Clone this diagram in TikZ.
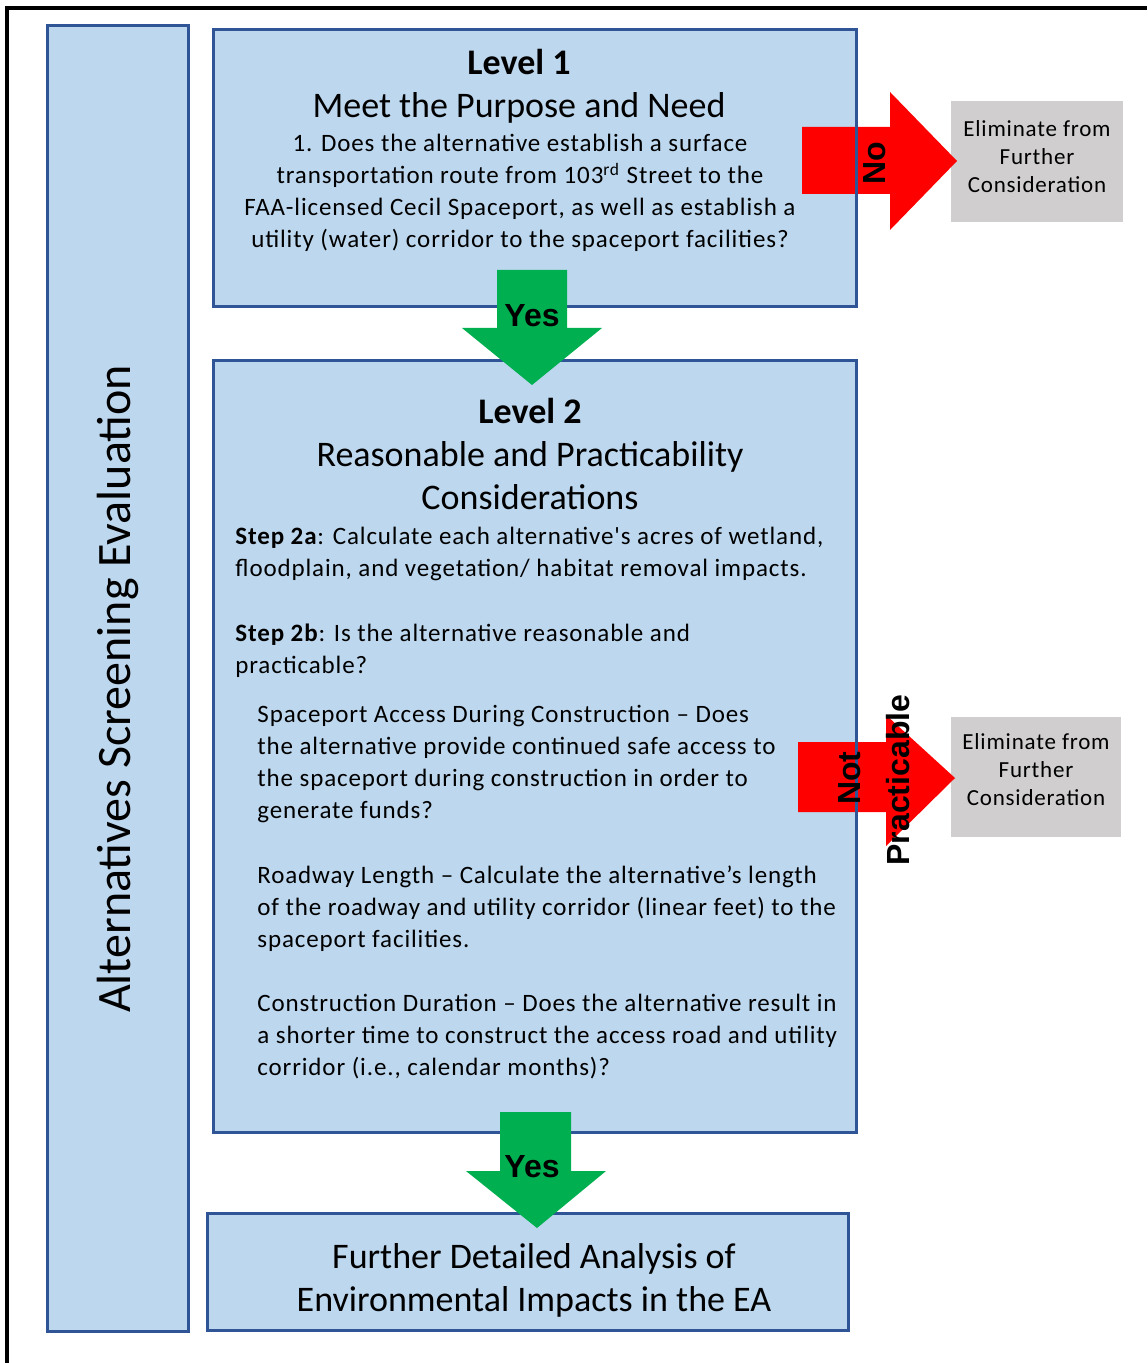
\documentclass[tikz,border=0pt]{standalone}
\usepackage{fontspec}
\setmainfont{Carlito}
\newfontfamily\spacedfont[LetterSpace=3.5]{Carlito}
\newfontfamily\arrowfont{Liberation Sans}
\definecolor{boxfill}{RGB}{189,215,238}
\definecolor{boxline}{RGB}{47,85,151}
\definecolor{yesgreen}{RGB}{0,176,80}
\definecolor{elimgray}{RGB}{208,206,206}
\begin{document}
\begin{tikzpicture}[x=0.5pt, y=-0.5pt,
        body/.style={inner sep=0pt, align=left, font=\spacedfont\fontsize{12.5}{16}\selectfont},
        title/.style={inner sep=0pt, align=center, font=\fontsize{18}{21.5}\selectfont},
        elim/.style={fill=elimgray, inner sep=0pt},
        elimtext/.style={inner sep=0pt, align=center, font=\spacedfont\fontsize{11.5}{14}\selectfont},
        arrowtext/.style={inner sep=0pt, font=\arrowfont\bfseries\fontsize{16}{16}\selectfont},
        border/.style={draw=boxline, line width=1.5pt}]
    \useasboundingbox (0,0) rectangle (1147,1363);
    \draw[line width=2pt] (7,1363) -- (7,8) -- (1147,8);

    \fill[boxfill] (47,26) rectangle (188,1331);
    \fill[boxfill] (213,30) rectangle (856,307);
    \fill[boxfill] (213,361) rectangle (856,1132);
    \fill[boxfill] (207,1213) rectangle (848,1330);

    \node[elim, minimum width=86pt, minimum height=60.5pt] (elimone) at (1037,161.5) {};
    \node[elim, minimum width=85pt, minimum height=60pt] (elimtwo) at (1036,777) {};
    \node[elimtext] (elimonetext) at (1037,157) {Eliminate from\\Further\\Consideration};
    \node[elimtext] (elimtwotext) at (1036,770) {Eliminate from\\Further\\Consideration};

    \fill[red] (802,127) -- (890,127) -- (890,92) -- (957,161) -- (890,230) -- (890,194) -- (802,194) -- cycle;
    \fill[red] (798,742) -- (886,742) -- (886,715) -- (955,778) -- (886,846) -- (886,812) -- (798,812) -- cycle;

    \draw[border] (47,26) rectangle (188,1331);
    \draw[border] (213,30) rectangle (856,307);
    \draw[border] (213,361) rectangle (856,1132);
    \draw[border] (207,1213) rectangle (848,1330);

    \fill[yesgreen] (497,270) -- (567,270) -- (567,328) -- (602,328) -- (532,385) -- (462,328) -- (497,328) -- cycle;
    \fill[yesgreen] (500,1112) -- (571,1112) -- (571,1171) -- (606,1171) -- (537,1228) -- (466,1171) -- (500,1171) -- cycle;

    \node[rotate=90, inner sep=0pt, font=\fontsize{24}{24}\selectfont] (leftlabel) at (118,689) {Alternatives Screening Evaluation};

    \node[title, anchor=north] (lvlonehead) at (519,49) {\textbf{Level 1}\\Meet the Purpose and Need};
    \node[body, align=center, anchor=north] (lvloneq) at (520,134) {1. Does the alternative establish a surface\\transportation route from 103\textsuperscript{rd} Street to the\\FAA-licensed Cecil Spaceport, as well as establish a\\utility (water) corridor to the spaceport facilities?};
    \node[arrowtext, rotate=90] (nolabel) at (875,163) {No};

    \node[arrowtext] (yesone) at (532,316) {Yes};

    \node[title, anchor=north] (lvltwohead) at (530,398) {\textbf{Level 2}\\Reasonable and Practicability\\Considerations};
    \node[body, anchor=north west] (stepa) at (235,527) {\textbf{Step 2a}: Calculate each alternative's acres of wetland,\\floodplain, and vegetation/ habitat removal impacts.};
    \node[body, anchor=north west] (stepb) at (235,624) {\textbf{Step 2b}: Is the alternative reasonable and\\practicable?};
    \node[body, anchor=north west] (access) at (257,705) {Spaceport Access During Construction \textendash{} Does\\the alternative provide continued safe access to\\the spaceport during construction in order to\\generate funds?};
    \node[body, anchor=north west] (length) at (257,865) {Roadway Length \textendash{} Calculate the alternative’s length\\of the roadway and utility corridor (linear feet) to the\\spaceport facilities.};
    \node[body, anchor=north west] (duration) at (257,994) {Construction Duration \textendash{} Does the alternative result in\\a shorter time to construct the access road and utility\\corridor (i.e., calendar months)?};
    \node[arrowtext, rotate=90] (notlabel) at (850,778) {Not};
    \node[arrowtext, rotate=90] (practlabel) at (898,780) {Practicable};

    \node[arrowtext] (yestwo) at (532,1167) {Yes};

    \node[title, anchor=north] (finaltext) at (534,1243) {Further Detailed Analysis of\\Environmental Impacts in the EA};
\end{tikzpicture}
\end{document}
